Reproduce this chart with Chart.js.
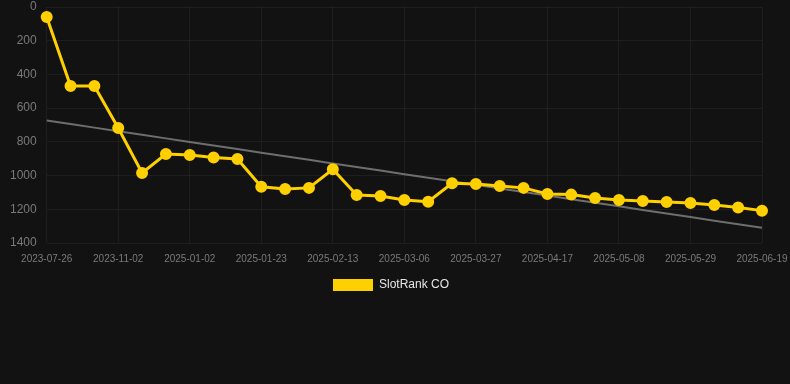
<!DOCTYPE html>
<html>
<head>
<meta charset="utf-8">
<script src="https://cdn.jsdelivr.net/npm/chart.js@4/dist/chart.umd.min.js"></script>
<style>
  html, body { margin: 0; padding: 0; background: #121212; }
  #wrap { width: 790px; height: 384px; position: relative; }
</style>
</head>
<body>
<div id="wrap"><canvas id="chart"></canvas></div>
<script>
const labels = [
  '2023-07-26', '2023-08-24', '2023-09-28', '2023-11-02', '2024-12-19', '2024-12-26',
  '2025-01-02', '2025-01-09', '2025-01-16', '2025-01-23', '2025-01-30', '2025-02-06',
  '2025-02-13', '2025-02-20', '2025-02-27', '2025-03-06', '2025-03-13', '2025-03-20',
  '2025-03-27', '2025-04-03', '2025-04-10', '2025-04-17', '2025-04-24', '2025-05-01',
  '2025-05-08', '2025-05-15', '2025-05-22', '2025-05-29', '2025-06-05', '2025-06-12',
  '2025-06-19'
]
const rankCO = [
  60, 469, 469, 718, 985, 872, 878, 893, 902, 1066, 1080,
  1073, 963, 1115, 1121, 1145, 1155, 1046, 1050, 1062, 1073,
  1109, 1113, 1133, 1145, 1151, 1157, 1163, 1174, 1190, 1208
]
const yTicks = [0, 200, 400, 600, 800, 1000, 1200, 1400]

// least squares trend over the series
function trendOf(vals) {
  const n = vals.length
  const mx = (n - 1) / 2
  const my = vals.reduce((a, b) => a + b, 0) / n
  let num = 0, den = 0
  vals.forEach((v, i) => { num += (i - mx) * (v - my); den += (i - mx) * (i - mx) })
  const slope = num / den
  return vals.map((v, i) => my + slope * (i - mx))
}
const trend = trendOf(rankCO)

const ctx = document.getElementById('chart')
new Chart(ctx, {
  type: 'line',
  data: {
    labels: labels,
    datasets: [
      {
        label: 'SlotRank CO',
        data: rankCO,
        borderColor: '#ffd000',
        backgroundColor: '#ffd000',
        borderWidth: 3,
        pointRadius: 4.5,
        pointHoverRadius: 4.5,
        pointBackgroundColor: '#ffd000',
        pointBorderColor: '#ffd000',
        tension: 0,
        clip: false,
        order: 1
      },
      {
        label: 'trend',
        data: trend,
        borderColor: '#6e6e6e',
        borderWidth: 2,
        pointRadius: 0,
        fill: false,
        order: 2
      }
    ]
  },
  options: {
    responsive: true,
    maintainAspectRatio: false,
    animation: false,
    layout: {autoPadding: false, padding: {top: 0, right: 8, bottom: 83, left: 0}},
    scales: {
      x: {
        offset: false,
        grid: {color: 'rgba(255,255,255,0.05)', drawTicks: false},
        border: {display: false},
        afterFit: s => { s.paddingRight = 28 },
        ticks: {
          autoSkip: false,
          maxRotation: 0,
          color: '#7a7a7a',
          font: {family: 'Arial, "Liberation Sans", sans-serif', size: 10},
          padding: 10,
          callback: function(v, i) { return i % 3 === 0 ? labels[i] : null }
        }
      },
      y: {
        reverse: true,
        min: 0,
        max: 1400,
        afterBuildTicks: axis => { axis.ticks = yTicks.map(v => ({value: v})) },
        afterFit: s => { s.paddingTop = 7 },
        grid: {color: 'rgba(255,255,255,0.05)', drawTicks: false},
        border: {display: false},
        ticks: {
          color: '#7a7a7a',
          font: {family: 'Arial, "Liberation Sans", sans-serif', size: 12},
          padding: 10,
          callback: v => String(v)
        }
      }
    },
    plugins: {
      legend: {
        position: 'bottom',
        labels: {
          color: '#e6e6e6',
          boxWidth: 40,
          boxHeight: 12,
          font: {family: 'Arial, "Liberation Sans", sans-serif', size: 12},
          padding: 4,
          generateLabels: chart => Chart.defaults.plugins.legend.labels.generateLabels(chart)
            .filter(item => item.text !== 'trend')
            .map(item => Object.assign(item, {lineWidth: 0}))
        }
      },
      tooltip: {enabled: false}
    }
  }
})
</script>
</body>
</html>
